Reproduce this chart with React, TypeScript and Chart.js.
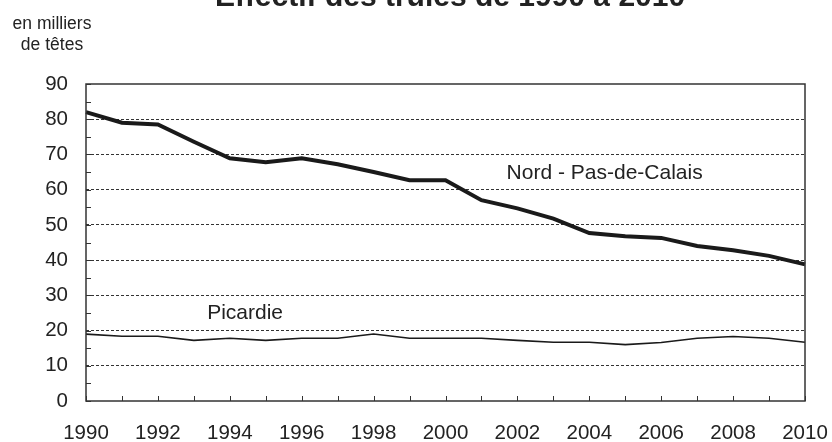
import React, { useEffect, useRef } from "react";
import { Chart, registerables } from "chart.js";

Chart.register(...registerables);

const years = [
  "1990", "1991", "1992", "1993", "1994", "1995", "1996", "1997", "1998", "1999", "2000",
  "2001", "2002", "2003", "2004", "2005", "2006", "2007", "2008", "2009", "2010",
];
const nordPasDeCalais = [
  82, 79, 78.5, 73.6, 68.9, 67.8, 68.9, 67.2, 65, 62.7, 62.7,
  57, 54.7, 51.8, 47.7, 46.8, 46.3, 44, 42.8, 41.2, 38.8,
];
const picardie = [
  19, 18.4, 18.4, 17.2, 17.8, 17.2, 17.8, 17.8, 19, 17.8, 17.8,
  17.8, 17.2, 16.7, 16.7, 16.0, 16.6, 17.8, 18.3, 17.8, 16.7,
];
const yMin = 0;
const yMax = 90;
const yStep = 10;
const minorStep = 5;

const titleText = "Effectif des truies de 1990 à 2010";
const unitLines = ["en milliers", "de têtes"];
const seriesNames = ["Nord - Pas-de-Calais", "Picardie"];
// annotation anchors in data units (category index, value)
const seriesLabelIndex = [11.7, 3.37];
const seriesLabelValue = [62.9, 23.2];

const FONT = "'Liberation Sans', Arial, Helvetica, sans-serif";
const TEXT = "#222";
const INK = "#1a1a1a";

const decorPlugin = {
  id: "decor",
  afterDraw(chart: any) {
    const { ctx, chartArea, scales } = chart;
    const xs = scales.x;
    const ys = scales.y;
    ctx.save();
    // frame
    ctx.strokeStyle = "#333";
    ctx.lineWidth = 1.5;
    ctx.strokeRect(chartArea.left, chartArea.top, chartArea.right - chartArea.left, chartArea.bottom - chartArea.top);
    // inner ticks
    ctx.lineWidth = 1;
    ctx.beginPath();
    for (let v = yMin; v <= yMax; v += minorStep) {
      const py = Math.round(ys.getPixelForValue(v)) + 0.5;
      ctx.moveTo(chartArea.left, py);
      ctx.lineTo(chartArea.left + 5, py);
    }
    for (let i = 0; i < years.length; i++) {
      const px = Math.round(xs.getPixelForValue(i)) + 0.5;
      ctx.moveTo(px, chartArea.bottom);
      ctx.lineTo(px, chartArea.bottom - 5);
    }
    ctx.stroke();
    // title
    ctx.fillStyle = TEXT;
    ctx.textAlign = "center";
    ctx.textBaseline = "alphabetic";
    ctx.font = `bold 30px ${FONT}`;
    ctx.fillText(titleText, 450, 6);
    // unit caption
    ctx.font = `17.5px ${FONT}`;
    ctx.fillText(unitLines[0], 52, 29);
    ctx.fillText(unitLines[1], 52, 50);
    // series labels
    ctx.textAlign = "left";
    ctx.font = `21px ${FONT}`;
    for (let i = 0; i < seriesNames.length; i++) {
      const px = xs.getPixelForValue(seriesLabelIndex[i]);
      const py = ys.getPixelForValue(seriesLabelValue[i]);
      ctx.fillText(seriesNames[i], px, py);
    }
    ctx.restore();
  },
};

export default function App() {
  const ref = useRef<HTMLCanvasElement>(null);
  useEffect(() => {
    if (!ref.current) return;
    const chart = new Chart(ref.current, {
      type: "line",
      data: {
        labels: years,
        datasets: [
          {
            label: seriesNames[0],
            data: nordPasDeCalais,
            borderColor: INK,
            borderWidth: 4,
            pointRadius: 0,
            tension: 0,
            fill: false,
          },
          {
            label: seriesNames[1],
            data: picardie,
            borderColor: INK,
            borderWidth: 1.6,
            pointRadius: 0,
            tension: 0,
            fill: false,
          },
        ],
      },
      options: {
        responsive: false,
        animation: false,
        events: [],
        layout: { padding: { left: 0, right: 27, top: 84, bottom: 0 } },
        plugins: { legend: { display: false }, title: { display: false }, tooltip: { enabled: false } },
        scales: {
          x: {
            type: "category",
            offset: false,
            border: { display: false },
            grid: { display: false, drawTicks: false },
            ticks: {
              autoSkip: false,
              maxRotation: 0,
              padding: 20,
              color: TEXT,
              font: { family: FONT, size: 20.5 },
              callback: (_v: any, i: number) => (i % 2 === 0 ? years[i] : ""),
            },
            afterFit: (s: any) => {
              s.height = 41;
              s.paddingLeft = 0;
              s.paddingRight = 0;
            },
          },
          y: {
            min: yMin,
            max: yMax,
            border: { display: false, dash: [3, 2] },
            grid: {
              drawTicks: false,
              color: (c: any) => (c.tick && (c.tick.value === yMin || c.tick.value === yMax) ? "rgba(0,0,0,0)" : "#333"),
              lineWidth: 1,
            },
            ticks: {
              stepSize: yStep,
              padding: 18,
              color: TEXT,
              font: { family: FONT, size: 20.5 },
            },
            afterFit: (s: any) => {
              s.width = 86;
              s.paddingTop = 0;
              s.paddingBottom = 0;
            },
          },
        },
      } as any,
      plugins: [decorPlugin],
    });
    return () => chart.destroy();
  }, []);
  return (
    <div style={{ position: "fixed", left: 0, top: 0, width: 832, height: 442, background: "#fff" }}>
      <canvas ref={ref} width={832} height={442} style={{ display: "block" }} />
    </div>
  );
}
